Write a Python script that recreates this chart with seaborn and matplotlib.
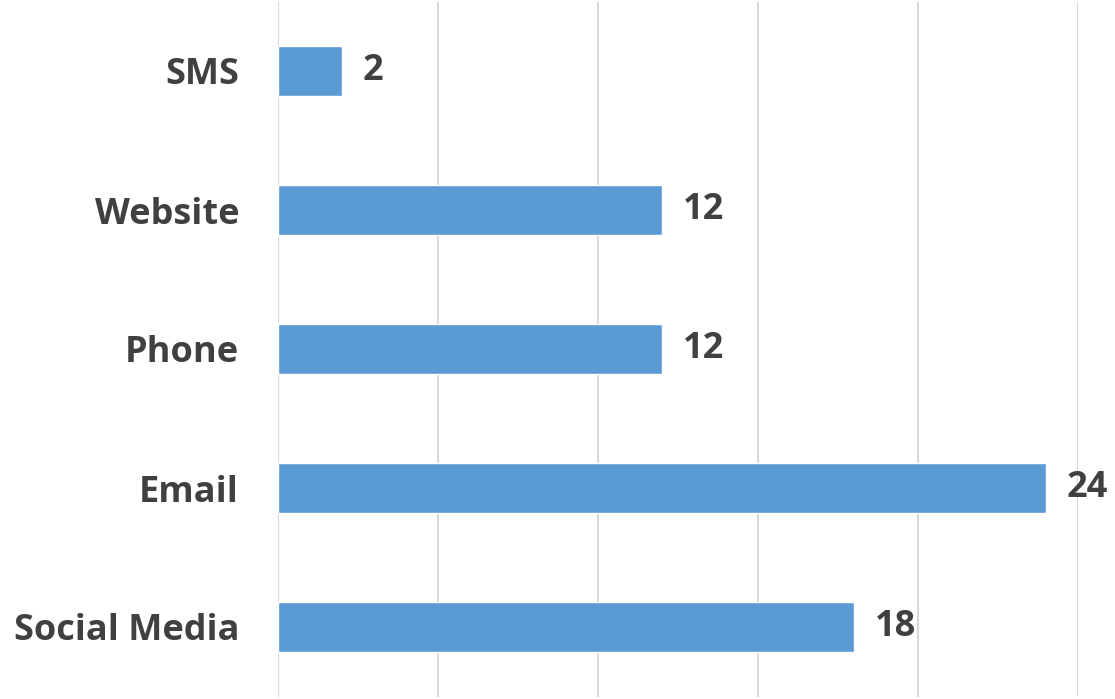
import matplotlib
matplotlib.use("Agg")
import matplotlib.pyplot as plt
import seaborn as sns
import pandas as pd

categories = ["SMS", "Website", "Phone", "Email", "Social Media"]
values = [2, 12, 12, 24, 18]

df = pd.DataFrame({"channel": categories, "count": values})

sns.set_theme(style="white")
plt.rcParams["font.family"] = ["Open Sans", "DejaVu Sans"]

fig = plt.figure(figsize=(11.15, 6.99), dpi=100)
ax = fig.add_axes([278 / 1115, 2.5 / 699, 800 / 1115, 695 / 699])

sns.barplot(data=df, x="count", y="channel", order=categories, color="#5B9BD5",
            saturation=1, width=0.36, ax=ax, zorder=3)

ax.set_xlim(0, 25)
ax.set_ylim(4.5, -0.5)
ax.set_xticks([0, 5, 10, 15, 20, 25])
ax.set_xticklabels([])
ax.xaxis.grid(True, color="#d9d9d9", linewidth=1.5, zorder=0)
ax.set_axisbelow(True)
for s in ax.spines.values():
    s.set_visible(False)
ax.set_xlabel("")
ax.set_ylabel("")
ax.tick_params(axis="y", length=0, pad=28, labelsize=26, labelcolor="#404040")
ax.tick_params(axis="x", length=0)
for lbl in ax.get_yticklabels():
    lbl.set_fontweight("bold")

for c in ax.containers:
    labels = ax.bar_label(c, padding=15, fontsize=26, fontweight="bold", color="#404040")
    for t in labels:
        t.set_clip_on(False)

fig.savefig("out.png", dpi=100, facecolor="white")
